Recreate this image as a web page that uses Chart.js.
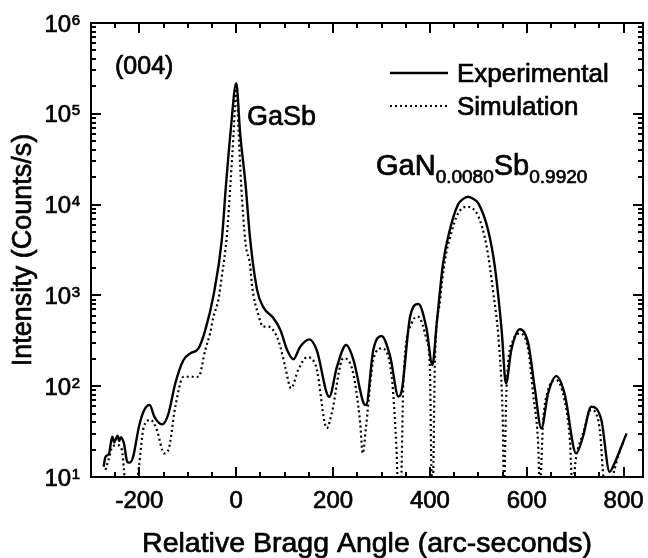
<!DOCTYPE html>
<html>
<head>
<meta charset="utf-8">
<script src="https://cdn.jsdelivr.net/npm/chart.js@4.4.1/dist/chart.umd.min.js"></script>
<style>
  html, body { margin: 0; padding: 0; background: #fff; }
  canvas { display: block; }
</style>
</head>
<body>
<canvas id="xrd" width="648" height="558"></canvas>
<script>
// (004) rocking curve, relative Bragg angle in arc-sec vs counts/s
const expAngle = [-274, -270, -263, -256, -252, -249, -245, -242, -238, -235, -232, -225, -220, -213,
  -201, -190, -179, -169, -153, -140, -126, -109, -95, -78, -64, -47, -30, -21, -12, 0,
  8, 19, 29, 43, 56, 77, 91, 105, 118, 132, 151, 166, 192, 208, 227, 242, 263, 268,
  283, 300, 318, 335, 342, 359, 376, 393, 405, 414, 427, 441, 458, 468, 479, 490, 500,
  520, 534, 548, 557, 568, 586, 603, 617, 630, 644, 661, 678, 702, 716, 733, 754, 771, 781, 806];
const expCounts = [13, 16.7, 18, 27.8, 24, 26, 28.5, 25, 27.5, 26, 23.5, 14.7, 14.4, 16.7,
  35.8, 54.7, 62, 46, 38, 50, 107, 194, 230, 261, 415, 1000, 4000, 17000, 61000, 217000,
  61000, 17000, 4000, 1150, 740, 560, 417, 251, 198, 272, 328, 251, 76.5, 164, 284, 195, 65, 62,
  251, 357, 211, 77, 91, 582, 804, 430, 171, 490, 2240, 5250, 10000, 11500, 12200, 11500, 10300,
  5250, 2070, 417, 107, 251, 424, 295, 91, 34.4, 83, 129, 83, 18.2, 27.8, 59.4, 42.5, 11.4, 14.1, 30.2];

const simAngle = [-270, -263, -256, -246, -236, -232, -229, -206, -201, -191, -177, -164, -149, -140,
  -126, -109, -95, -78, -64, -54, -47, -37, -30, -19, -12, -5.5, 0, 5, 10, 19, 29, 32, 46,
  56, 67, 84, 91, 101, 113, 128, 146, 165, 187, 197, 221, 239, 256, 261, 268, 283, 300, 321,
  331, 334, 340, 345, 362, 376, 393, 400, 403, 406, 410, 421, 431, 441, 458, 476, 500, 517,
  530, 543, 550, 553, 558, 572, 586, 603, 613, 623, 627, 634, 644, 661, 678, 689, 694, 702,
  716, 733, 750, 761, 770, 781, 788, 800];
const simCounts = [12, 16, 21.5, 22.4, 19.8, 12, 8, 8, 13, 35.7, 42.5, 33, 18.2, 20,
  59, 127, 127, 127, 251, 383, 582, 890, 1590, 4800, 17000, 61000, 190000, 61000, 17000, 3800, 2070, 1350, 600,
  452, 452, 350, 272, 164, 95, 151, 208, 164, 34.4, 50, 203, 157, 39, 18.2, 35.8, 195, 261, 127,
  19.8, 8, 8, 107, 490, 582, 324, 151, 12, 8, 164, 890, 2450, 4270, 7970, 9480, 7400, 3470,
  1150, 272, 50, 8, 90, 324, 380, 251, 83, 25.6, 8, 42.5, 91, 117, 70, 25.6, 8, 16.7,
  30, 55, 35.8, 8, 8, 12, 16.7, 25];

const xMajorTicks = [-200, 0, 200, 400, 600, 800];
const yExponents = [1, 2, 3, 4, 5, 6];

const FONT = '"Liberation Sans", Arial, Helvetica, sans-serif';

const pairs = (xs, ys) => xs.map((x, i) => ({ x: x, y: ys[i] }));

// filled text with a thin outline, the scanned figure has heavy lettering
function heavyText(ctx, text, x, y) {
  ctx.fillText(text, x, y);
  ctx.strokeText(text, x, y);
}

// frame, inward ticks, labels and annotations drawn off the chart's own scales
const decorPlugin = {
  id: 'decor',
  afterDraw(chart) {
    const { ctx, chartArea: a, scales: { x, y } } = chart;
    ctx.save();
    ctx.strokeStyle = '#000';
    ctx.fillStyle = '#000';
    ctx.lineWidth = 2;
    ctx.setLineDash([]);
    ctx.strokeRect(a.left, a.top, a.right - a.left, a.bottom - a.top);

    ctx.beginPath();
    for (let v = -250; v <= x.max; v += 50) {
      const px = Math.round(x.getPixelForValue(v));
      const len = xMajorTicks.includes(v) ? 10 : 5;
      ctx.moveTo(px, a.bottom); ctx.lineTo(px, a.bottom - len);
      ctx.moveTo(px, a.top); ctx.lineTo(px, a.top + len);
    }
    yExponents.forEach(e => {
      for (let m = 1; m <= 9; m++) {
        const v = m * Math.pow(10, e);
        if (v > y.max) break;
        const py = Math.round(y.getPixelForValue(v));
        const len = m === 1 ? 10 : 5;
        ctx.moveTo(a.left, py); ctx.lineTo(a.left + len, py);
        ctx.moveTo(a.right, py); ctx.lineTo(a.right - len, py);
      }
    });
    ctx.stroke();

    ctx.lineWidth = 0.7;
    ctx.lineJoin = 'round';

    // x tick labels
    ctx.font = '24px ' + FONT;
    ctx.textAlign = 'center';
    ctx.textBaseline = 'alphabetic';
    xMajorTicks.forEach(v => heavyText(ctx, String(v), x.getPixelForValue(v), 508));

    // y tick labels as 10 with raised exponent
    ctx.textAlign = 'right';
    yExponents.forEach(e => {
      const py = y.getPixelForValue(Math.pow(10, e));
      const right = a.left - 11;
      ctx.font = '15px ' + FONT;
      const supW = ctx.measureText(String(e)).width;
      heavyText(ctx, String(e), right, py + 1.5);
      ctx.font = '24px ' + FONT;
      heavyText(ctx, '10', right - supW - 0.5, py + 8.5);
    });

    // axis titles
    ctx.font = '28.5px ' + FONT;
    ctx.textAlign = 'center';
    heavyText(ctx, 'Relative Bragg Angle (arc-seconds)', (a.left + a.right) / 2, 552);
    ctx.save();
    ctx.translate(31, (a.top + a.bottom) / 2);
    ctx.rotate(-Math.PI / 2);
    ctx.font = '27px ' + FONT;
    heavyText(ctx, 'Intensity (Counts/s)', 0, 0);
    ctx.restore();

    // legend
    ctx.textAlign = 'left';
    chart.data.datasets.forEach((ds, i) => {
      const ly = 73 + i * 33;
      ctx.beginPath();
      ctx.lineWidth = ds.borderWidth;
      ctx.setLineDash(ds.borderDash || []);
      ctx.moveTo(390, ly); ctx.lineTo(448, ly);
      ctx.stroke();
      ctx.setLineDash([]);
      ctx.lineWidth = 0.7;
      ctx.font = '26px ' + FONT;
      heavyText(ctx, ds.label, 457, ly + 9);
    });

    // annotations
    ctx.font = '25px ' + FONT;
    heavyText(ctx, '(004)', 115, 74);
    ctx.font = '27px ' + FONT;
    heavyText(ctx, 'GaSb', 247, 125);

    let tx = 376;
    const parts = [['GaN', 29, 175], ['0.0080', 19, 183], ['Sb', 29, 175], ['0.9920', 19, 183]];
    parts.forEach(([t, size, base]) => {
      ctx.font = size + 'px ' + FONT;
      heavyText(ctx, t, tx, base);
      tx += ctx.measureText(t).width;
    });
    ctx.restore();
  }
};

new Chart(document.getElementById('xrd'), {
  type: 'scatter',
  data: {
    datasets: [
      {
        label: 'Experimental',
        data: pairs(expAngle, expCounts),
        showLine: true,
        borderColor: '#000',
        borderWidth: 2.4,
        pointRadius: 0,
        cubicInterpolationMode: 'monotone',
      },
      {
        label: 'Simulation',
        data: pairs(simAngle, simCounts),
        showLine: true,
        borderColor: '#000',
        borderWidth: 2.2,
        borderDash: [2, 3],
        pointRadius: 0,
        cubicInterpolationMode: 'monotone',
      },
    ],
  },
  options: {
    responsive: false,
    animation: false,
    devicePixelRatio: 1,
    layout: { padding: { left: 91, right: 5, top: 23, bottom: 81 } },
    plugins: { legend: { display: false }, tooltip: { enabled: false } },
    scales: {
      x: { type: 'linear', min: -300, max: 840, display: false },
      y: { type: 'logarithmic', min: 10, max: 1000000, display: false },
    },
  },
  plugins: [decorPlugin],
});
</script>
</body>
</html>
